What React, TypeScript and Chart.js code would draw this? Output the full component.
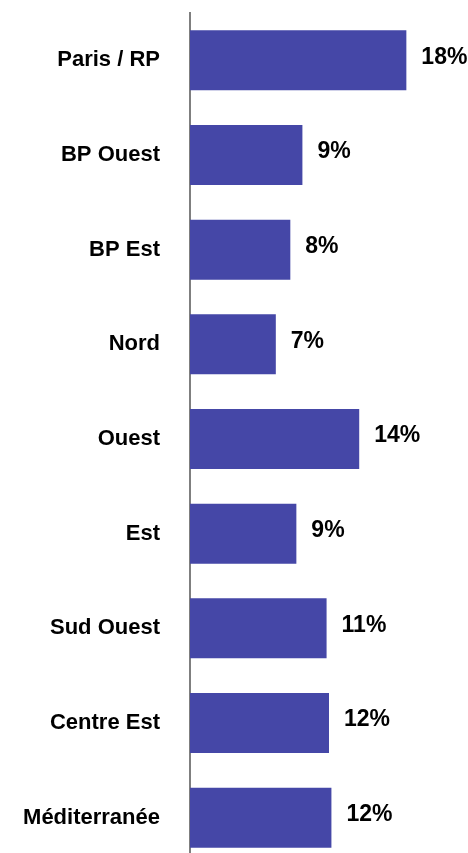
import React, { useEffect, useRef } from "react";
import { Chart, registerables } from "chart.js";

Chart.register(...registerables);

const categories = [
  "Paris / RP",
  "BP Ouest",
  "BP Est",
  "Nord",
  "Ouest",
  "Est",
  "Sud Ouest",
  "Centre Est",
  "Méditerranée",
];
const values = [17.9, 9.3, 8.3, 7.1, 14.0, 8.8, 11.3, 11.5, 11.7];
const valueLabels = ["18%", "9%", "8%", "7%", "14%", "9%", "11%", "12%", "12%"];

const FONT = "'Liberation Sans', Arial, Helvetica, sans-serif";

const valueLabelPlugin = {
  id: "valueLabels",
  afterDatasetsDraw(chart: any) {
    const ctx = chart.ctx;
    const meta = chart.getDatasetMeta(0);
    ctx.save();
    ctx.font = `bold 23px ${FONT}`;
    ctx.fillStyle = "#000000";
    ctx.textAlign = "left";
    ctx.textBaseline = "middle";
    meta.data.forEach((bar: any, i: number) => {
      ctx.fillText(valueLabels[i], bar.x + 15, bar.y - 3);
    });
    ctx.restore();
  },
};

export default function App() {
  const canvasRef = useRef<HTMLCanvasElement | null>(null);

  useEffect(() => {
    if (!canvasRef.current) return;
    const chart = new Chart(canvasRef.current, {
      type: "bar",
      data: {
        labels: categories,
        datasets: [
          {
            data: values,
            backgroundColor: "#4547A7",
            borderWidth: 0,
            categoryPercentage: 1,
            barPercentage: 0.634,
          },
        ],
      },
      options: {
        indexAxis: "y",
        responsive: false,
        animation: false,
        layout: { padding: { top: 13, right: 0, bottom: 0, left: 0 } },
        plugins: {
          legend: { display: false },
          tooltip: { enabled: false },
        },
        scales: {
          x: {
            display: false,
            min: 0,
            max: 23,
          },
          y: {
            afterFit(scale: any) {
              scale.width = 190;
              scale.paddingTop = 0;
              scale.paddingBottom = 0;
            },
            grid: { display: false, drawTicks: true, tickLength: 30 },
            border: { display: true, color: "#7f7f7f", width: 2 },
            ticks: {
              padding: 0,
              color: "#000000",
              font: { family: FONT, size: 22, weight: "bold" },
            },
          },
        },
      },
      plugins: [valueLabelPlugin],
    });
    return () => chart.destroy();
  }, []);

  return (
    <div
      style={{
        position: "fixed",
        top: 0,
        left: 0,
        width: 468,
        height: 853,
        overflow: "hidden",
        background: "#ffffff",
      }}
    >
      <canvas ref={canvasRef} width={468} height={865} style={{ display: "block" }} />
    </div>
  );
}
